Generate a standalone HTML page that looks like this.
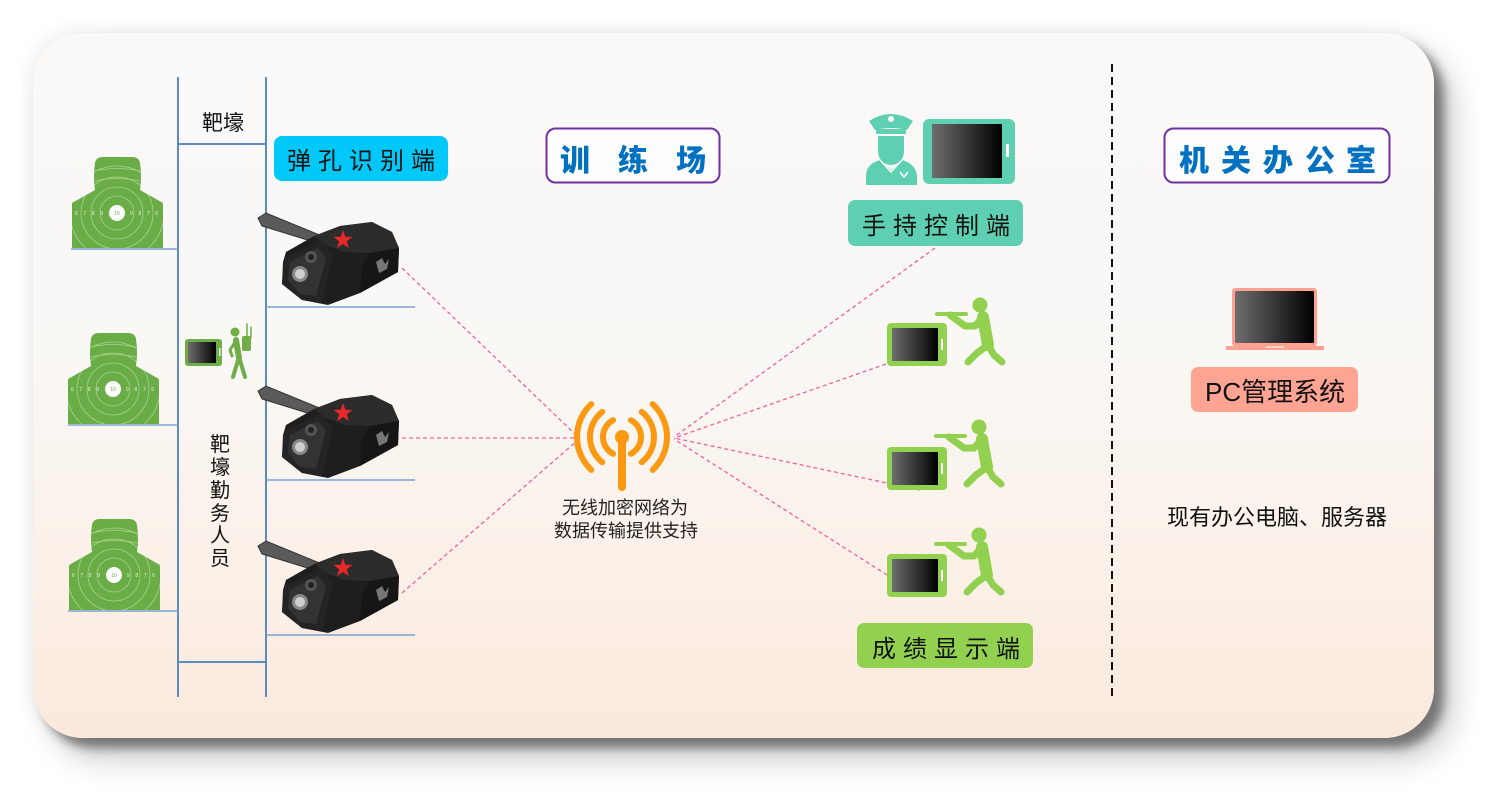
<!DOCTYPE html>
<html><head><meta charset="utf-8">
<style>
html,body{margin:0;padding:0;background:#fff;}
body{width:1499px;height:804px;position:relative;overflow:hidden;font-family:"Liberation Sans","Noto Sans CJK SC",sans-serif;}
.card{position:absolute;left:33px;top:33px;width:1401px;height:705px;border-radius:50px;
background:linear-gradient(180deg,#faf9f8 0%,#faf8f5 45%,#fbefe6 80%,#fbe8dc 100%);
box-shadow:10px 10px 10px rgba(0,0,0,0.42),18px 20px 32px rgba(0,0,0,0.22),-4px -4px 18px rgba(0,0,0,0.06);}
svg{position:absolute;left:0;top:0;}
text{font-family:"Liberation Sans","Noto Sans CJK SC",sans-serif;}
</style></head>
<body>
<div class="card"></div>
<svg width="1499" height="804" viewBox="0 0 1499 804" xmlns="http://www.w3.org/2000/svg">
<defs>
  <linearGradient id="scr" x1="0" y1="0" x2="1" y2="0">
    <stop offset="0" stop-color="#6e6e6e"/><stop offset="1" stop-color="#000"/>
  </linearGradient>
  <clipPath id="tclip">
    <path d="M-22,33 Q-24,20 -22,6 Q-21,0 -14,0 L15,0 Q22,0 23,6 Q25,20 23,33 L46,46 L46,91 L-45,91 L-45,46 Z"/>
  </clipPath>
  <g id="target">
    <path d="M-22,33 Q-24,20 -22,6 Q-21,0 -14,0 L15,0 Q22,0 23,6 Q25,20 23,33 L46,46 L46,91 L-45,91 L-45,46 Z" fill="#6aac46"/>
    <g clip-path="url(#tclip)" fill="none" stroke="#a9d392" stroke-width="0.8">
      <circle cx="0" cy="56" r="17"/><circle cx="0" cy="56" r="26"/>
      <circle cx="0" cy="56" r="36"/><circle cx="0" cy="56" r="47"/>
      <path d="M-22,14 Q0,9 23,14 M-22,24 Q0,19 23,24"/>
    </g>
    <circle cx="0" cy="56" r="8" fill="#fff"/>
    <text x="0" y="58" font-size="5" fill="#6aac46" text-anchor="middle">10</text>
    <text x="-42" y="58" font-size="5" fill="#e8f4e0" textLength="28">6 7 8 9</text>
    <text x="13" y="58" font-size="5" fill="#e8f4e0" textLength="28">9 8 7 6</text>
  </g>
  <g id="cam">
    <path d="M258,218 L266,213 L322,236 L327,246 L262,226 Z" fill="#5a5a5a" stroke="#333" stroke-width="1"/>
    <path d="M286,252 L314,236 L340,226 L372,222 L392,232 L399,248 L398,272 L360,293 L328,305 L302,300 L282,284 L283,262 Z" fill="#1e1e1e"/>
    <path d="M314,236 L340,226 L372,222 L392,232 L399,248 L370,253 L345,252 L326,245 Z" fill="#2c2c2c"/>
    <path d="M370,253 L399,248 L398,272 L360,293 L362,265 Z" fill="#161616"/>
    <path d="M284,258 L322,240 L333,255 L322,303 L302,300 L282,284 Z" fill="#242424"/>
    <path d="M290,262 L318,248 L326,258 L316,296 L300,294 L288,280 Z" fill="#333"/>
    <circle cx="300" cy="274" r="8" fill="#888"/><circle cx="300" cy="274" r="5" fill="#cfcfcf"/>
    <circle cx="311" cy="257" r="6" fill="#555"/><circle cx="311" cy="257" r="3" fill="#222"/>
    <path d="M343,230 L345.35,236.76 L352.5,236.9 L346.8,241.24 L348.9,248.1 L343,244 L337.1,248.1 L339.2,241.24 L333.5,236.9 L340.65,236.76 Z" fill="#e8282c"/>
    <path d="M376,262 l6,-4 l3,6 l4,-5 l-2,10 l-8,4 Z" fill="#777"/>
  </g>
  <g id="shooter" fill="#92d050" stroke="#92d050" stroke-linecap="round" stroke-linejoin="round">
    <circle cx="0" cy="0" r="7.5" stroke="none"/>
    <path d="M-43,9 L-14,9" stroke-width="4" fill="none"/>
    <path d="M-30,10 L-15,21 L-5,21 L3,12" stroke-width="7" fill="none"/>
    <path d="M3,12 L8,40" stroke-width="12" fill="none"/>
    <path d="M8,40 L-3,48 L-12,57" stroke-width="7" fill="none"/>
    <path d="M8,40 L14,50 L22,57" stroke-width="7" fill="none"/>
  </g>
  <g id="gtab">
    <rect x="0" y="0" width="60" height="43" rx="4" fill="#92d050"/>
    <rect x="5" y="5" width="46" height="33" fill="url(#scr)"/>
    <rect x="54" y="16" width="2" height="11" fill="#fff"/>
  </g>
</defs>

<!-- blue structure lines -->
<g stroke="#5a8cc2" stroke-width="2" fill="none">
  <path d="M178,77 V697 M266,77 V697 M178,144 H266 M178,662 H266"/>
</g>
<g stroke="#7aa3d0" stroke-width="1.6" fill="none">
  <path d="M71,249 H178 M68,425 H178 M68,611 H178"/>
  <path d="M266,307 H415 M266,480 H415 M266,635 H415"/>
</g>

<!-- targets -->
<use href="#target" x="117" y="157"/>
<use href="#target" x="113" y="333"/>
<use href="#target" x="114" y="519"/>

<!-- left small soldier with tablet -->
<rect x="185" y="339" width="37" height="27" rx="3" fill="#70ad47"/>
<rect x="188" y="342" width="28" height="21" fill="url(#scr)"/>
<rect x="219" y="348" width="1.5" height="8" fill="#fff"/>
<g fill="#70ad47" stroke="#70ad47" stroke-linecap="round" stroke-linejoin="round">
  <circle cx="235" cy="332" r="4.5" stroke="none"/>
  <path d="M236,340 L239,358" stroke-width="6" fill="none"/>
  <path d="M239,357 L233,377 M239,357 L245,377" stroke-width="4" fill="none"/>
  <path d="M235,342 L230,350 L232,356" stroke-width="3" fill="none"/>
  <rect x="242" y="336" width="9" height="15" rx="2" stroke="none"/>
  <path d="M247,336 V324 M251,338 V327" stroke-width="1.5" fill="none"/>
</g>

<!-- cameras -->
<use href="#cam"/>
<use href="#cam" y="173"/>
<use href="#cam" y="328"/>

<!-- pink dashed connectors -->
<g stroke="#f2609e" stroke-width="1.3" stroke-dasharray="4 3" fill="none">
  <path d="M402,268 L578,437"/>
  <path d="M402,438 L578,438"/>
  <path d="M402,593 L578,440"/>
  <path d="M935,248 L674,437"/>
  <path d="M886,364 L674,438"/>
  <path d="M920,490 L674,438"/>
  <path d="M887,575 L674,439"/>
</g>

<!-- antenna -->
<g stroke="#fb9a12" stroke-width="6" fill="none" stroke-linecap="round">
  <path d="M613.1,420.2 A19,19 0 0 0 613.1,453.8"/>
  <path d="M630.9,420.2 A19,19 0 0 1 630.9,453.8"/>
  <path d="M602.3,411.8 A32,32 0 0 0 602.3,462.2"/>
  <path d="M641.7,411.8 A32,32 0 0 1 641.7,462.2"/>
  <path d="M591.3,404.1 A45,45 0 0 0 591.3,469.9"/>
  <path d="M652.7,404.1 A45,45 0 0 1 652.7,469.9"/>
</g>
<rect x="618" y="437" width="8" height="54" rx="4" fill="#fb9a12"/>
<circle cx="622" cy="437" r="7" fill="#fb9a12"/>
<text x="625" y="514" font-size="18" fill="#222" text-anchor="middle">无线加密网络为</text>
<text x="626" y="537" font-size="18" fill="#222" text-anchor="middle">数据传输提供支持</text>

<!-- labels left -->
<text x="202" y="130" font-size="21" fill="#111">靶壕</text>
<g font-size="20" fill="#111">
  <text x="210" y="451">靶</text><text x="210" y="474">壕</text><text x="210" y="497">勤</text>
  <text x="210" y="520">务</text><text x="210" y="542">人</text><text x="210" y="565">员</text>
</g>
<rect x="274" y="136" width="174" height="45" rx="8" fill="#00c8f8"/>
<text x="287 318 349 380 411" y="169" font-size="24" fill="#111">弹孔识别端</text>

<!-- 训练场 -->
<rect x="546.5" y="128.5" width="173" height="54" rx="9" fill="#fdfdfd" stroke="#7030a0" stroke-width="2"/>
<text x="560 618 676" y="171" font-size="30" font-weight="900" fill="#0070c0">训练场</text>

<!-- handheld -->
<g fill="#5ecfb1">
  <path d="M869,121 Q891,107 913,121 L907,130 Q891,126 875,130 Z"/>
  <rect x="876" y="129" width="30" height="5" rx="1"/>
  <path d="M878,136 L904,136 L904,150 Q904,164 891,165 Q878,164 878,150 Z"/>
  <path d="M866,185 L866,176 Q866,164 880,160 L891,170 L902,160 Q916,164 917,176 L917,185 Z"/>
</g>
<circle cx="891" cy="119" r="3" fill="#fff"/>
<path d="M880,160 L891,172 L902,160" stroke="#fff" stroke-width="1.5" fill="none"/>
<path d="M900,172 L904,177 L908,172" stroke="#fff" stroke-width="1.5" fill="none"/>
<rect x="923" y="119" width="92" height="65" rx="6" fill="#5ecfb1"/>
<rect x="932" y="124" width="70" height="54" fill="url(#scr)"/>
<rect x="1006" y="144" width="3" height="13" fill="#fff"/>
<rect x="848" y="200" width="175" height="46" rx="7" fill="#5ecfb0"/>
<text x="862 893 924 955 986" y="234" font-size="24" fill="#111">手持控制端</text>

<!-- shooters -->
<use href="#gtab" x="887" y="323"/>
<use href="#gtab" x="887" y="447"/>
<use href="#gtab" x="887" y="554"/>
<use href="#shooter" x="980" y="305"/>
<use href="#shooter" x="979" y="427"/>
<use href="#shooter" x="979" y="535"/>
<rect x="857" y="623" width="176" height="45" rx="7" fill="#92d050"/>
<text x="872 903 934 965 996" y="657" font-size="24" fill="#111">成绩显示端</text>

<!-- dashed separator -->
<path d="M1112,64 V697" stroke="#111" stroke-width="2" stroke-dasharray="8 5" fill="none"/>

<!-- office -->
<rect x="1164.5" y="128.5" width="225" height="54" rx="9" fill="#fdfdfd" stroke="#7030a0" stroke-width="2"/>
<text x="1179 1221 1263 1305 1346" y="171" font-size="30" font-weight="900" fill="#0070c0">机关办公室</text>
<rect x="1232" y="288" width="85" height="58" rx="3" fill="#ffa190"/>
<rect x="1235" y="291" width="79" height="52" rx="1" fill="url(#scr)"/>
<rect x="1226" y="346" width="98" height="4" fill="#ffa190"/>
<rect x="1266" y="346" width="18" height="2" fill="#ffd0c6"/>
<rect x="1191" y="367" width="167" height="45" rx="7" fill="#ffa393"/>
<text x="1205" y="401" font-size="26" fill="#111">PC管理系统</text>
<text x="1167" y="525" font-size="22" fill="#111">现有办公电脑、服务器</text>
</svg>
</body></html>
